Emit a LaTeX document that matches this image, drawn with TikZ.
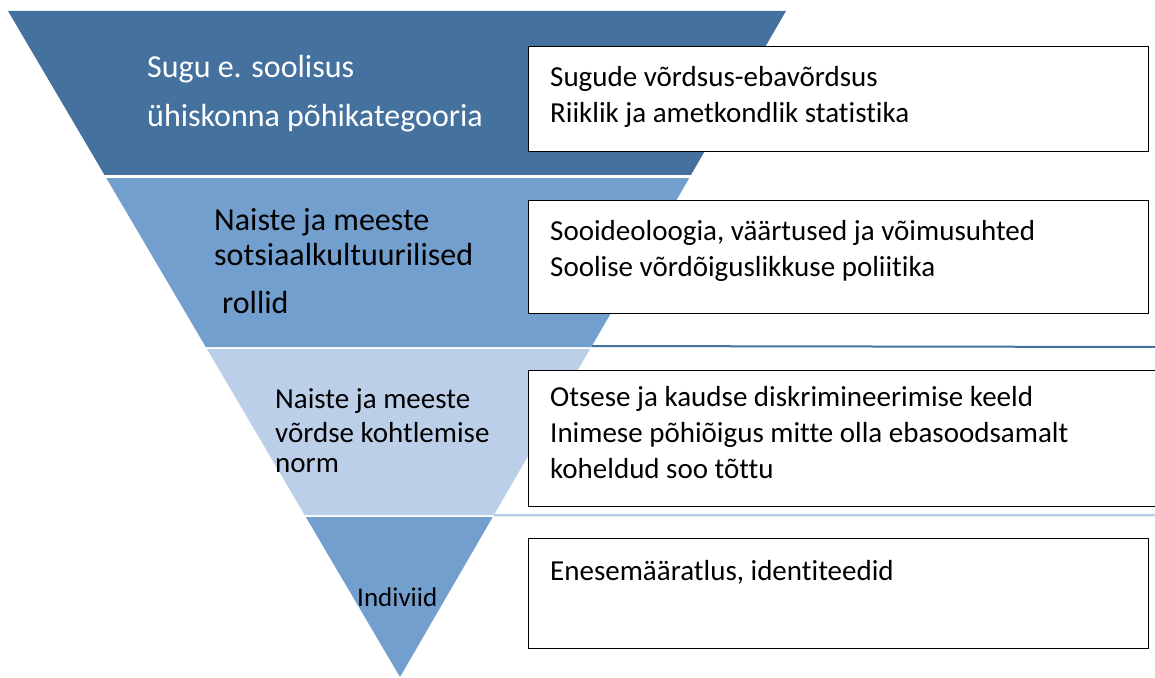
\documentclass[tikz,border=0pt]{standalone}
\usepackage{fontspec}
\setmainfont{Carlito}[Ligatures=NoCommon]
\usetikzlibrary{calc}
\definecolor{bandDark}{HTML}{44719D}
\definecolor{bandMid}{HTML}{729FCE}
\definecolor{bandLight}{HTML}{BCCFE8}
\definecolor{rimLight}{HTML}{B8CCE4}
\tikzset{
  infobox/.style={draw=black, line width=1.3pt, fill=white, anchor=north west},
  boxtext/.style={anchor=base west, inner sep=0pt, font=\fontsize{29}{34}\selectfont},
  bandtext/.style={anchor=base west, inner sep=0pt, font=\fontsize{32}{38}\selectfont}
}

\begin{document}
\begin{tikzpicture}[x=1pt,y=-1pt]
  \useasboundingbox (0,0) rectangle (1155,677);
  \coordinate (tl) at (8,11);
  \coordinate (tr) at (786,11);
  \coordinate (apex) at (400,677);
  % bands of the triangle
  \fill[bandDark] (tl) -- (tr) -- ($(tr)!0.2462!(apex)$) -- ($(tl)!0.2462!(apex)$) -- cycle;
  \fill[bandMid] ($(tl)!0.2508!(apex)$) -- ($(tr)!0.2508!(apex)$) -- ($(tr)!0.5045!(apex)$) -- ($(tl)!0.5045!(apex)$) -- cycle;
  \fill[bandLight] ($(tl)!0.5075!(apex)$) -- ($(tr)!0.5075!(apex)$) -- ($(tr)!0.7568!(apex)$) -- ($(tl)!0.7568!(apex)$) -- cycle;
  \fill[bandMid] ($(tl)!0.7598!(apex)$) -- ($(tr)!0.7598!(apex)$) -- (apex) -- cycle;
  % rims to the right
  \coordinate (rim1) at ($(tr)!0.503!(apex)$);
  \coordinate (rim1end) at (1160,347);
  \coordinate (rim2) at ($(tr)!0.757!(apex)$);
  \coordinate (rim2end) at (1160,515);
  \draw[bandDark, line width=2pt] (rim1) -- (rim1end);
  \draw[rimLight, line width=2.5pt] (rim2) -- (rim2end);
  % boxes
  \node[infobox, minimum width=620, minimum height=105] (box1) at (528,46) {};
  \node[infobox, minimum width=620, minimum height=113] (box2) at (528,200) {};
  \node[infobox, minimum width=640, minimum height=136] (box3) at (528,370) {};
  \node[infobox, minimum width=620, minimum height=110] (box4) at (528,538) {};
  % band labels
  \node[bandtext, text=white] (gender) at (147,77) {Sugu e. soolisus};
  \node[bandtext, text=white] (category) at (147,126) {ühiskonna põhikategooria};
  \node[bandtext] (roles1) at (214,230) {Naiste ja meeste};
  \node[bandtext] (roles2) at (214,265) {sotsiaalkultuurilised};
  \node[bandtext] (roles3) at (222,313) {rollid};
  \node[bandtext, font=\fontsize{29}{34}\selectfont] (norm1) at (275,408) {Naiste ja meeste};
  \node[bandtext, font=\fontsize{29}{34}\selectfont] (norm2) at (275,442) {võrdse kohtlemise};
  \node[bandtext, font=\fontsize{29}{34}\selectfont] (norm3) at (275,472) {norm};
  \node[bandtext, font=\fontsize{27}{32}\selectfont] (indiv) at (357,606) {Indiviid};
  % box texts
  \node[boxtext] (stat1) at (550,86) {Sugude võrdsus-ebavõrdsus};
  \node[boxtext] (stat2) at (550,122) {Riiklik ja ametkondlik statistika};
  \node[boxtext] (ideo1) at (550,240) {Sooideoloogia, väärtused ja võimusuhted};
  \node[boxtext] (ideo2) at (550,276) {Soolise võrdõiguslikkuse poliitika};
  \node[boxtext] (law1) at (550,406) {Otsese ja kaudse diskrimineerimise keeld};
  \node[boxtext] (law2) at (550,442) {Inimese põhiõigus mitte olla ebasoodsamalt};
  \node[boxtext] (law3) at (550,478) {koheldud soo tõttu};
  \node[boxtext] (self) at (550,580) {Enesemääratlus, identiteedid};
\end{tikzpicture}
\end{document}
